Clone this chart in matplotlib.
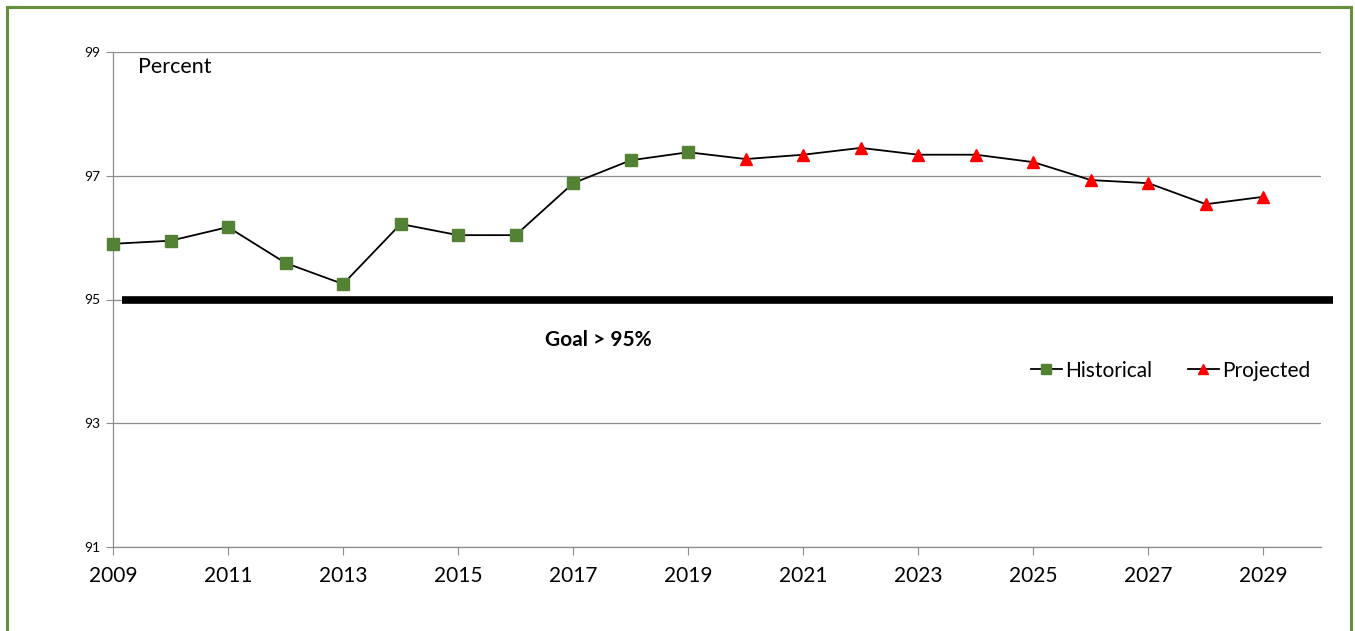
import numpy as np
import matplotlib
matplotlib.use("Agg")
import matplotlib.pyplot as plt
from matplotlib.patches import Rectangle

plt.rcParams['font.family'] = ['Lato', 'DejaVu Sans']

# data
hist_years = [2009, 2010, 2011, 2012, 2013, 2014, 2015, 2016, 2017, 2018, 2019]
hist_vals = [95.90, 95.95, 96.17, 95.59, 95.25, 96.22, 96.04, 96.04, 96.88, 97.25, 97.38]
proj_years = [2020, 2021, 2022, 2023, 2024, 2025, 2026, 2027, 2028, 2029]
proj_vals = [97.27, 97.34, 97.45, 97.34, 97.34, 97.22, 96.93, 96.88, 96.54, 96.66]
goal = 95
yticks = [91, 93, 95, 97, 99]
xticks = list(range(2009, 2030, 2))

green = '#548235'
grid_c = '#8c8c8c'

fig = plt.figure(figsize=(13.55, 6.31), dpi=100)
ax = fig.add_axes([113/1355, 1 - 547/631, 1208/1355, 495/631])

# one black line through all points
ax.plot(hist_years + proj_years, hist_vals + proj_vals, color='black', lw=1.3,
        zorder=3, clip_on=False)
ax.plot(hist_years, hist_vals, ls='none', marker='s', ms=8.5, color=green,
        zorder=4, clip_on=False)
ax.plot(proj_years, proj_vals, ls='none', marker='^', ms=8, color='red',
        zorder=4, clip_on=False)

# legend proxies
h1, = ax.plot([], [], color='black', lw=1.3, marker='s', ms=7, mfc=green, mec=green)
h2, = ax.plot([], [], color='black', lw=1.3, marker='^', ms=7, mfc='red', mec='red')
ax.legend([h1, h2], ['Historical', 'Projected'], ncol=2, frameon=False,
          loc='center right', bbox_to_anchor=(0.998, 0.356), fontsize=15,
          handlelength=1.5, handletextpad=0.15, columnspacing=1.7,
          borderaxespad=0)

# goal line
ax.plot([2009.16, 2030.2], [goal, goal], color='black', lw=5.5, solid_capstyle='butt',
        clip_on=False, zorder=2)
ax.text(2017.44, 94.35, 'Goal > 95%', fontsize=15, fontweight='bold',
        ha='center', va='center')
ax.text(0.021, 0.97, 'Percent', transform=ax.transAxes, fontsize=15.5,
        ha='left', va='center')

ax.set_xlim(2009, 2030)
ax.set_ylim(91, 99)
ax.set_yticks(yticks)
ax.set_xticks(xticks)
ax.yaxis.grid(True, color=grid_c, lw=0.9)
ax.set_axisbelow(True)
for s in ['top', 'right']:
    ax.spines[s].set_visible(False)
for s in ['left', 'bottom']:
    ax.spines[s].set_color(grid_c)
    ax.spines[s].set_linewidth(0.9)
ax.tick_params(axis='y', labelsize=10, length=5, color=grid_c, pad=4)
ax.tick_params(axis='x', labelsize=15, length=6, color=grid_c, pad=8)

# green frame round the figure
fig.patches.append(Rectangle((7/1355, -0.05), 1344/1355, 1.05 - 7/631,
                             transform=fig.transFigure, fill=False,
                             edgecolor='#62913c', lw=2.2, clip_on=False))

fig.savefig('out.png', dpi=100)
